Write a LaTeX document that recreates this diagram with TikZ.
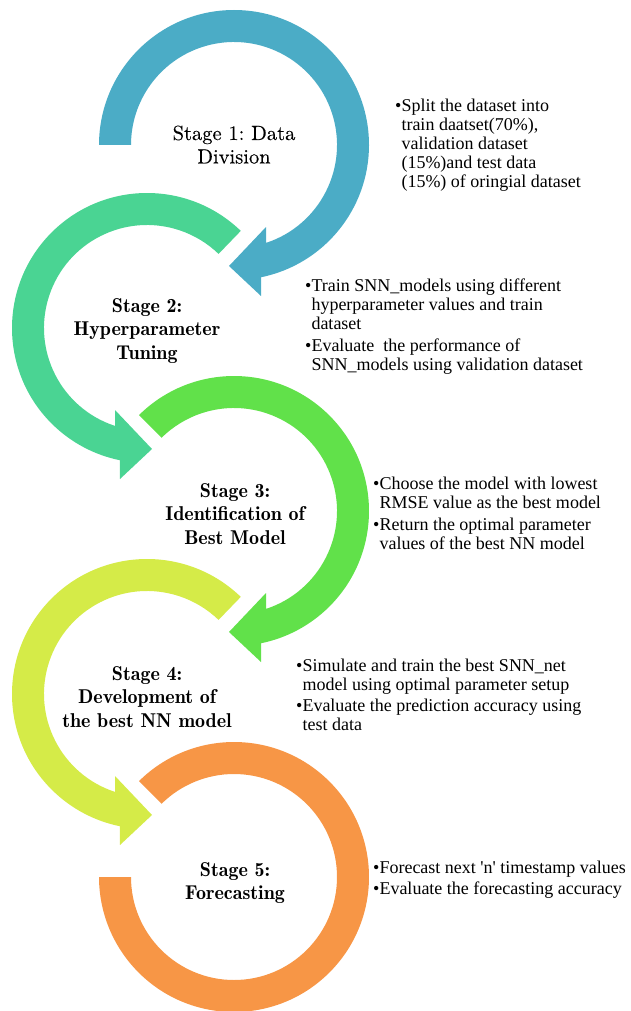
\documentclass[tikz,border=0pt]{standalone}
\usepackage{fontspec}
\frenchspacing
\newfontfamily\bodyfont{Liberation Serif}
\newfontfamily\lmten[FakeBold=0.2]{lmroman10-regular.otf}
\definecolor{c1}{RGB}{75,172,198}
\definecolor{c2}{RGB}{74,212,147}
\definecolor{c3}{RGB}{97,225,74}
\definecolor{c4}{RGB}{213,235,72}
\definecolor{c5}{RGB}{247,150,70}
\tikzset{
  stagetitle/.style={anchor=base, inner sep=0pt, font=\lmten\fontsize{20.5}{23.5}\selectfont},
  stagebold/.style={anchor=base, inner sep=0pt, font=\fontsize{20}{23.5}\fontseries{b}\selectfont},
  bullets/.style={anchor=base west, inner sep=0pt, font=\bodyfont\fontsize{18}{19}\selectfont},
}
\newcommand{\bl}{\textbullet}
\newcommand{\ringarrow}[2]{% #1 colour, #2 start angle
  \fill[#1] (#2:135) arc[start angle=#2, end angle=-78.4, radius=135]
    -- (27,-151) -- (-5,-121) -- (32,-82) -- (-71.9:103)
    arc[start angle=-71.9, end angle=#2, radius=103] -- cycle;}
\begin{document}
\begin{tikzpicture}[x=1pt,y=1pt]
\useasboundingbox (0,0) rectangle (630,-1011);
% rings
\begin{scope}[shift={(234,-145)}]\ringarrow{c1}{180}\end{scope}
\begin{scope}[shift={(147,-328)},xscale=-1]\ringarrow{c2}{134}\end{scope}
\begin{scope}[shift={(234,-511)}]\ringarrow{c3}{134.7}\end{scope}
\begin{scope}[shift={(147,-694)},xscale=-1]\ringarrow{c4}{134}\end{scope}
\begin{scope}[shift={(234,-877)}]
  \fill[c5] (134.7:135) arc[start angle=134.7, end angle=-180, radius=135]
    -- (-180:103) arc[start angle=-180, end angle=134.7, radius=103] -- cycle;
\end{scope}
% titles
\node[stagetitle] (t1) at (234,-140) {\begin{tabular}[t]{@{}c@{}}Stage 1: Data\\Division\end{tabular}};
\node[stagebold] (t2) at (147,-312) {\begin{tabular}[t]{@{}c@{}}Stage 2:\\Hyperparameter\\Tuning\end{tabular}};
\node[stagebold] (t3) at (235,-497) {\begin{tabular}[t]{@{}c@{}}Stage 3:\\Identification of\\Best Model\end{tabular}};
\node[stagebold] (t4) at (147,-680) {\begin{tabular}[t]{@{}c@{}}Stage 4:\\Development of\\the best NN model\end{tabular}};
\node[stagebold] (t5) at (235,-876) {\begin{tabular}[t]{@{}c@{}}Stage 5:\\Forecasting\end{tabular}};
% bullet texts
\node[bullets] (b1) at (395,-112) {\begin{tabular}[t]{@{}l@{}l@{}}
\bl&Split the dataset into\\
&train daatset(70\%),\\
&validation dataset\\
&(15\%)and test data\\
&(15\%) of oringial dataset\end{tabular}};
\node[bullets] (b2) at (305,-291) {\begin{tabular}[t]{@{}l@{}l@{}}
\bl&Train SNN\_models using different\\
&hyperparameter values and train\\
&dataset\\[3.5pt]
\bl&Evaluate\ \ the performance of\\
&SNN\_models using validation dataset\end{tabular}};
\node[bullets] (b3) at (373,-489) {\begin{tabular}[t]{@{}l@{}l@{}}
\bl&Choose the model with lowest\\
&RMSE value as the best model\\[3pt]
\bl&Return the optimal parameter\\
&values of the best NN model\end{tabular}};
\node[bullets] (b4) at (296,-671) {\begin{tabular}[t]{@{}l@{}l@{}}
\bl&Simulate and train the best SNN\_net\\
&model using optimal parameter setup\\[2pt]
\bl&Evaluate the prediction accuracy using\\
&test data\end{tabular}};
\node[bullets] (b5) at (373,-873) {\begin{tabular}[t]{@{}l@{}l@{}}
\bl&Forecast next \textquotesingle n\textquotesingle\ timestamp values\\[2pt]
\bl&Evaluate the forecasting accuracy\end{tabular}};
\end{tikzpicture}
\end{document}
